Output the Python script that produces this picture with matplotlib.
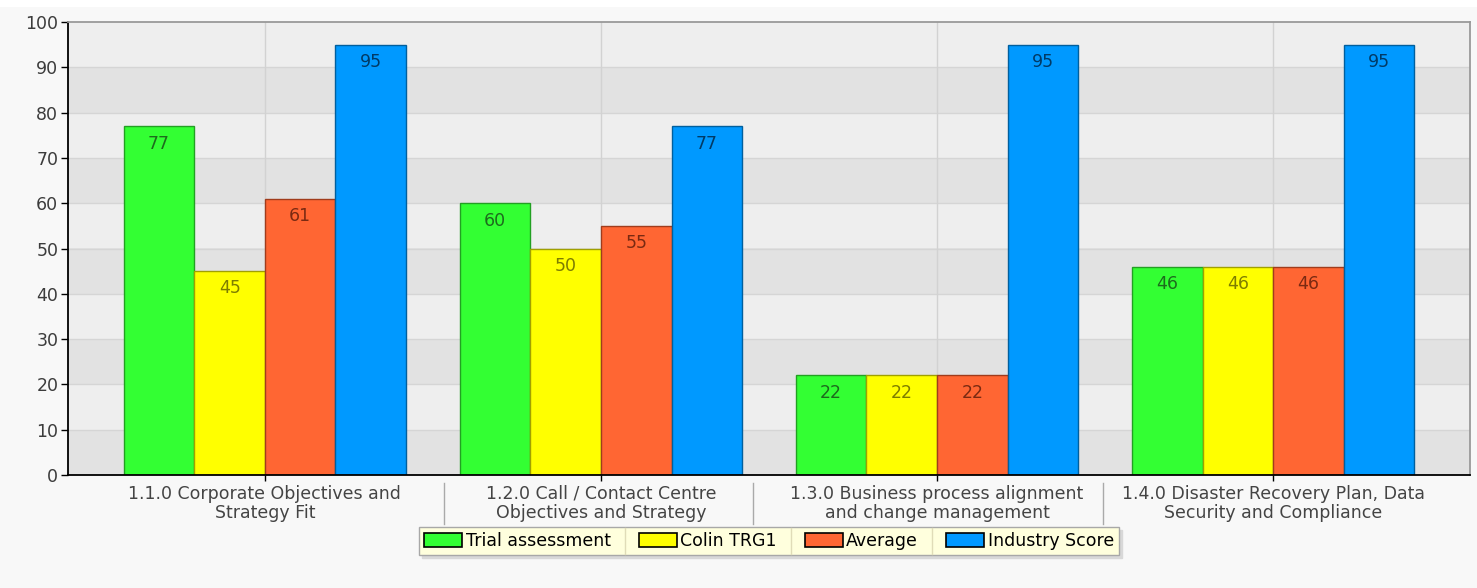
"""Grouped bar chart of assessment scores per category."""

import matplotlib.pyplot as plt
import numpy as np
from matplotlib.lines import Line2D
from matplotlib.patches import Rectangle

categories = [
    "1.1.0 Corporate Objectives and\nStrategy Fit",
    "1.2.0 Call / Contact Centre\nObjectives and Strategy",
    "1.3.0 Business process alignment\nand change management",
    "1.4.0 Disaster Recovery Plan, Data\nSecurity and Compliance",
]
series_names = ["Trial assessment", "Colin TRG1", "Average", "Industry Score"]
trial_assessment = [77, 60, 22, 46]
colin_trg1 = [45, 50, 22, 46]
average = [61, 55, 22, 46]
industry_score = [95, 77, 95, 95]
y_ticks = list(range(0, 101, 10))

fill_colors = ["#33ff33", "#ffff00", "#ff6633", "#0099ff"]
edge_colors = ["#22a022", "#a0a000", "#a03c1c", "#005f9e"]
text_colors = ["#1d6b1d", "#7d7d00", "#7a2a12", "#003a66"]

FONT_SIZE = 12.5

plt.rcParams["font.family"] = ["DejaVu Sans"]

fig = plt.figure(figsize=(14.77, 5.88), dpi=100, facecolor="#f8f8f8")
fig.patches.append(Rectangle((0, 1 - 7 / 588), 1, 7 / 588, transform=fig.transFigure,
                             facecolor="white", edgecolor="none", zorder=-1))
ax = fig.add_axes([68 / 1477, 113 / 588, 1402 / 1477, 453 / 588])
ax.set_facecolor("#eeeeee")

# alternating horizontal bands
for lo in range(0, 100, 20):
    ax.axhspan(lo, lo + 10, color="#e2e2e2", zorder=0, lw=0)
for y in y_ticks[1:-1]:
    ax.axhline(y, color="#d5d5d5", lw=1, zorder=0.5)

x = np.arange(len(categories))
for c in x:
    ax.axvline(c, color="#d2d2d2", lw=1, zorder=0.5)

width = 0.21
all_series = [trial_assessment, colin_trg1, average, industry_score]
for k, (name, vals) in enumerate(zip(series_names, all_series)):
    pos = x + (k - 1.5) * width
    ax.bar(pos, vals, width=width, color=fill_colors[k], edgecolor=edge_colors[k],
           linewidth=1, label=name, zorder=2)
    for px, v in zip(pos, vals):
        ax.annotate(f"{v}", (px, v), xytext=(0, -6), textcoords="offset points",
                    ha="center", va="top", fontsize=FONT_SIZE, color=text_colors[k], zorder=3)

ax.set_xlim(-0.586, len(categories) - 1 + 0.586)
ax.set_ylim(0, 100)
ax.set_yticks(y_ticks)
ax.set_xticks(x)
ax.set_xticklabels(categories, fontsize=FONT_SIZE, color="#444444", linespacing=1.1)
ax.tick_params(axis="y", labelsize=FONT_SIZE, labelcolor="#3c3c3c", length=5, width=1, pad=2)
ax.tick_params(axis="x", length=4, width=1, pad=3)

for side in ("left", "bottom"):
    ax.spines[side].set_color("black")
    ax.spines[side].set_linewidth(1.3)
for side in ("top", "right"):
    ax.spines[side].set_color("#999999")
    ax.spines[side].set_linewidth(1.3)

leg = ax.legend(ncol=4, loc="center", bbox_to_anchor=(0.5 * (68 + 1470) / 1477, 1 - 541 / 588),
                bbox_transform=fig.transFigure,
                fontsize=FONT_SIZE, frameon=True, fancybox=False,
                shadow={"color": "#d8d8d8", "alpha": 1}, facecolor="#ffffdd",
                edgecolor="#a8a8a8", handlelength=2.2, handleheight=0.85,
                handletextpad=0.2, columnspacing=1.6, borderpad=0.3,
                borderaxespad=0)
leg.get_frame().set_linewidth(1)
leg.get_frame().set_alpha(1)
for h in leg.legend_handles:
    h.set_edgecolor("black")
    h.set_linewidth(1.2)

fig.canvas.draw()
renderer = fig.canvas.get_renderer()
to_fig = fig.transFigure.inverted()

# separators between category labels
labels = ax.get_xticklabels()
for a, b in zip(labels[:-1], labels[1:]):
    ea = a.get_window_extent(renderer)
    eb = b.get_window_extent(renderer)
    xm = (ea.x1 + eb.x0) / 2
    (fx0, fy0) = to_fig.transform((xm, ea.y0 - 2))
    (_, fy1) = to_fig.transform((xm, ea.y1 + 2))
    fig.add_artist(Line2D([fx0, fx0], [fy0, fy1], color="#aaaaaa", lw=1))

# separators between legend entries
frame = leg.get_frame().get_window_extent(renderer)
texts = leg.get_texts()
handles = leg.legend_handles
for t, h in zip(texts[:-1], handles[1:]):
    et = t.get_window_extent(renderer)
    eh = h.get_window_extent(renderer)
    xm = (et.x1 + eh.x0) / 2
    (fx, fy0) = to_fig.transform((xm, frame.y0 + 1))
    (_, fy1) = to_fig.transform((xm, frame.y1 - 1))
    fig.add_artist(Line2D([fx, fx], [fy0, fy1], color="#e0dcb8", lw=1, zorder=10))

fig.savefig("out.png", dpi=100, facecolor=fig.get_facecolor())
